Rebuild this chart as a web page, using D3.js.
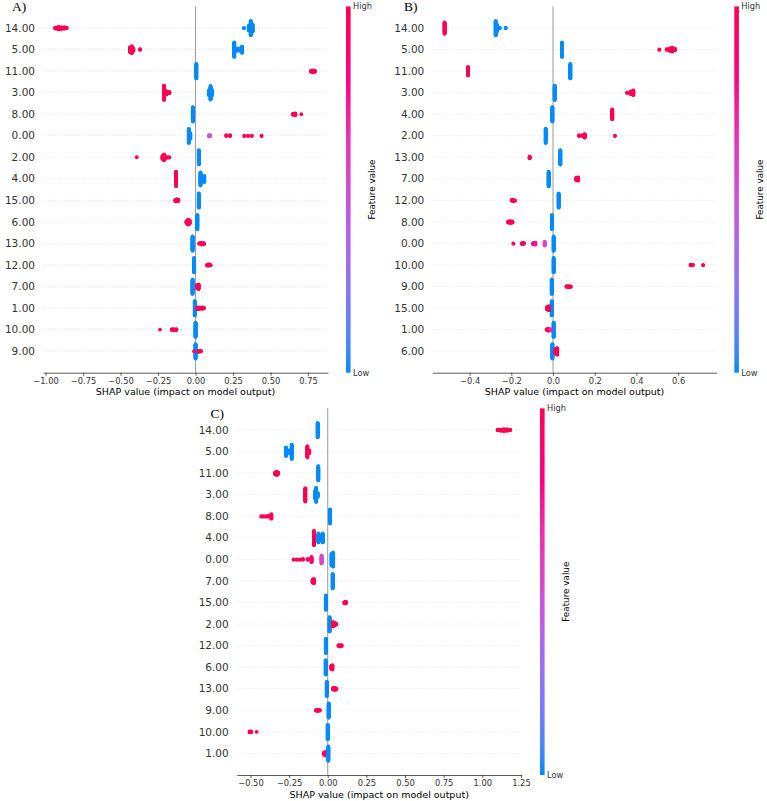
<!DOCTYPE html>
<html><head><meta charset="utf-8">
<script src="https://cdn.jsdelivr.net/npm/d3@7"></script>
<style>body{margin:0;background:#fff}svg{display:block}</style>
</head><body>
<svg id="chart" width="767" height="801"></svg>
<script>
// ---------- DATA ----------
// each cluster: [SHAP value, number of points, feature value level (0 = low, 1 = high)]
const featuresA = ["14.00","5.00","11.00","3.00","8.00","0.00","2.00","4.00","15.00","6.00","13.00","12.00","7.00","1.00","10.00","9.00"];
const shapA = [
  [[-0.935,4,1],[-0.915,8,1],[-0.895,6,1],[-0.875,5,1],[-0.86,3,1],[0.323,2,0],[0.355,14,0],[0.368,40,0],[0.38,20,0]],
  [[-0.437,14,1],[-0.425,20,1],[-0.415,8,1],[-0.37,3,1],[0.258,40,0],[0.272,8,0],[0.285,6,0],[0.298,8,0],[0.31,18,0]],
  [[0.005,40,0],[0.77,4,1],[0.782,6,1],[0.795,4,1]],
  [[-0.21,38,1],[-0.195,10,1],[-0.175,5,1],[0.09,14,0],[0.1,36,0],[0.11,14,0]],
  [[-0.018,40,0],[0.65,4,1],[0.665,6,1],[0.705,1,1]],
  [[-0.045,34,0],[-0.035,14,0],[0.09,4,0.5],[0.098,3,0.45],[0.205,3,0.95],[0.23,3,1],[0.325,2,1],[0.35,2,1],[0.375,2,1],[0.44,2,1]],
  [[-0.392,1,1],[-0.22,10,1],[-0.21,16,1],[-0.198,6,1],[-0.175,2,1],[0.022,38,0]],
  [[-0.13,40,1],[0.033,36,0],[0.045,14,0],[0.058,18,0]],
  [[-0.135,4,1],[-0.125,7,1],[-0.115,5,1],[0.022,40,0]],
  [[-0.06,6,1],[-0.05,14,1],[-0.04,10,1],[0.012,38,0]],
  [[-0.02,40,0],[0.025,3,1],[0.04,6,1],[0.055,4,1]],
  [[-0.01,40,0],[0.078,4,1],[0.09,5,1],[0.1,2,1]],
  [[-0.02,40,0],[0.01,10,1],[0.02,14,1]],
  [[-0.005,40,0],[0.01,6,0.85],[0.025,6,1],[0.045,5,1],[0.055,3,1]],
  [[-0.237,1,1],[-0.158,3,1],[-0.145,4,1],[-0.128,3,1],[0.0,40,0]],
  [[0.0,40,0],[-0.01,1,1],[0.02,4,1],[0.035,3,1]]
];

const featuresB = ["14.00","5.00","11.00","3.00","4.00","2.00","13.00","7.00","12.00","8.00","0.00","10.00","9.00","15.00","1.00","6.00"];
const shapB = [
  [[-0.52,32,1],[-0.275,40,0],[-0.268,18,0],[-0.256,3,0],[-0.227,3,0]],
  [[0.043,40,0],[0.51,2,1],[0.545,3,1],[0.56,8,1],[0.572,12,1],[0.585,5,1]],
  [[-0.408,24,1],[0.083,40,0]],
  [[0.008,40,0],[0.355,2,1],[0.372,8,1],[0.385,14,1]],
  [[-0.003,40,0],[0.284,28,1]],
  [[-0.035,36,0],[0.125,3,1],[0.14,3,1],[0.152,10,1],[0.297,2,1]],
  [[-0.112,6,1],[0.035,40,0]],
  [[-0.021,40,0],[0.112,8,1],[0.12,10,1]],
  [[-0.198,3,1],[-0.19,4,1],[-0.182,2,1],[0.027,36,0]],
  [[-0.215,4,1],[-0.205,6,1],[-0.195,4,1],[-0.005,36,0]],
  [[-0.19,2,1],[-0.148,4,0.95],[-0.14,3,0.95],[-0.095,4,0.8],[-0.085,6,0.75],[-0.04,10,0.55],[0.003,34,0]],
  [[0.003,36,0],[0.66,3,1],[0.67,3,1],[0.72,2,1]],
  [[-0.006,40,0],[0.065,3,1],[0.075,4,1],[0.085,2,1]],
  [[-0.006,40,0],[-0.028,8,1],[-0.02,12,1]],
  [[0.003,38,0],[-0.03,3,1],[-0.022,6,1],[-0.012,4,0.7]],
  [[-0.003,38,0],[0.012,14,1],[0.02,18,1]]
];

const featuresC = ["14.00","5.00","11.00","3.00","8.00","4.00","0.00","7.00","15.00","2.00","12.00","6.00","13.00","9.00","10.00","1.00"];
const shapC = [
  [[-0.065,38,0],[1.1,3,1],[1.12,4,1],[1.14,6,1],[1.16,5,1],[1.18,3,1]],
  [[-0.27,22,0],[-0.258,8,0],[-0.245,8,0],[-0.233,36,0],[-0.132,28,1],[-0.12,8,1]],
  [[-0.34,6,1],[-0.33,10,1],[-0.32,4,1],[-0.061,38,0]],
  [[-0.145,30,1],[-0.082,18,0],[-0.075,32,0],[-0.065,10,0]],
  [[-0.43,2,1],[-0.415,2,1],[-0.4,2,1],[-0.385,3,1],[-0.365,12,1],[0.015,36,0]],
  [[-0.089,38,1],[-0.06,24,0],[-0.045,14,0],[-0.032,24,0]],
  [[-0.22,2,1],[-0.2,2,1],[-0.18,2,1],[-0.16,3,1],[-0.13,3,0.95],[-0.105,14,0.9],[-0.04,20,0.55],[0.025,30,0],[0.035,36,0]],
  [[-0.098,8,1],[-0.09,12,1],[0.032,38,0]],
  [[-0.012,38,0],[0.108,4,1],[0.118,5,1]],
  [[0.012,38,0],[0.035,12,1],[0.045,8,1],[0.055,3,1]],
  [[-0.012,38,0],[0.07,3,1],[0.08,4,1],[0.09,3,1]],
  [[-0.013,38,0],[0.022,8,1],[0.03,12,1]],
  [[-0.006,38,0],[0.035,5,1],[0.045,6,1],[0.055,4,1]],
  [[-0.075,3,1],[-0.065,4,1],[-0.052,3,1],[0.006,38,0]],
  [[-0.505,3,1],[-0.495,3,1],[-0.46,1,1],[0.0,38,0]],
  [[-0.025,6,1],[-0.015,10,0.9],[0.004,36,0]]
];

const ticksA = [-1.00,-0.75,-0.50,-0.25,0.00,0.25,0.50,0.75];
const ticksB = [-0.4,-0.2,0.0,0.2,0.4,0.6];
const ticksC = [-0.50,-0.25,0.00,0.25,0.50,0.75,1.00,1.25];
const xLabel = "SHAP value (impact on model output)";
const cbLabel = "Feature value";
const cbHigh = "High", cbLow = "Low";

// ---------- LAYOUT ----------
const panels = [
  {tag:"A)", features:featuresA, shap:shapA, ticks:ticksA, fmt:".2f",
   domain:[-1.017,0.883], left:43, right:328, top:6.4, bottom:372.7,
   tagX:12, tagY:11, cbX:346, xLabelY:395},
  {tag:"B)", features:featuresB, shap:shapB, ticks:ticksB, fmt:".1f",
   domain:[-0.579,0.785], left:432.3, right:716.7, top:6.4, bottom:372.7,
   tagX:404, tagY:11, cbX:734.3, xLabelY:395},
  {tag:"C)", features:featuresC, shap:shapC, ticks:ticksC, fmt:".2f",
   domain:[-0.589,1.255], left:236.7, right:521.7, top:408.4, bottom:775,
   tagX:210.5, tagY:417.5, cbX:540, xLabelY:797.5}
];

const svg = d3.select("#chart");
const color = d3.scaleLinear().domain([0,1]).range(["#008bfb","#ff0052"]).interpolate(d3.interpolateHcl);

// gradient
const defs = svg.append("defs");
const grad = defs.append("linearGradient").attr("id","cbgrad")
  .attr("x1","0").attr("y1","1").attr("x2","0").attr("y2","0");
d3.range(0,1.0001,0.05).forEach(t => grad.append("stop").attr("offset", t).attr("stop-color", color(t)));

const FONT = "'DejaVu Sans', sans-serif";

function drawPanel(p) {
  const g = svg.append("g");
  const n = p.features.length;
  const x = d3.scaleLinear().domain(p.domain).range([p.left, p.right]);
  const y = d3.scaleLinear().domain([-1, n]).range([p.bottom, p.top]);
  const rowPx = Math.abs(y(1) - y(0));

  // dotted row lines
  g.selectAll(null).data(p.features).enter().append("line")
    .attr("x1", p.left).attr("x2", p.right)
    .attr("y1", (d,i) => y(n-1-i)).attr("y2", (d,i) => y(n-1-i))
    .attr("stroke", "#cccccc").attr("stroke-width", 0.6).attr("stroke-dasharray", "1 2");

  // zero line
  g.append("line").attr("x1", x(0)).attr("x2", x(0))
    .attr("y1", p.top).attr("y2", p.bottom)
    .attr("stroke", "#999999").attr("stroke-width", 1);

  // beeswarm points
  p.shap.forEach((clusters, i) => {
    const maxN = d3.max(clusters, c => c[1]);
    const maxLayer = Math.ceil((maxN - 1) / 2);
    const unit = 0.36 / (maxLayer + 1) * rowPx;
    const pts = [];
    clusters.forEach(c => {
      for (let k = 0; k < c[1]; k++) {
        const off = Math.ceil(k / 2) * (k % 2 === 0 ? -1 : 1);
        pts.push({v: c[0], dy: off * unit, t: c[2]});
      }
    });
    const yy = y(n - 1 - i);
    g.append("g").selectAll("circle").data(pts).enter().append("circle")
      .attr("cx", d => x(d.v)).attr("cy", d => yy + d.dy).attr("r", 1.9)
      .attr("fill", d => color(d.t));
  });

  // y labels
  g.selectAll(null).data(p.features).enter().append("text")
    .attr("x", p.left - 8).attr("y", (d,i) => y(n-1-i))
    .attr("dy", "0.35em").attr("text-anchor", "end")
    .attr("font-family", FONT).attr("font-size", 10.5).attr("fill", "#333333")
    .text(d => d);

  // x axis
  const axis = d3.axisBottom(x).tickValues(p.ticks).tickFormat(d3.format(p.fmt))
    .tickSize(3).tickSizeOuter(0).tickPadding(2.5);
  const ag = g.append("g").attr("transform", `translate(0,${p.bottom})`).call(axis);
  ag.select(".domain").attr("stroke", "#333333").attr("stroke-width", 0.8);
  ag.selectAll(".tick line").attr("stroke", "#333333").attr("stroke-width", 0.8);
  ag.selectAll(".tick text").attr("font-family", FONT).attr("font-size", 8.3).attr("fill", "#333333");

  g.append("text").attr("x", (p.left + p.right) / 2).attr("y", p.xLabelY)
    .attr("text-anchor", "middle").attr("font-family", FONT).attr("font-size", 9.5)
    .attr("fill", "#000").text(xLabel);

  // panel tag
  g.append("text").attr("x", p.tagX).attr("y", p.tagY)
    .attr("font-family", "'Liberation Serif', 'Times New Roman', serif").attr("font-size", 13.5)
    .attr("fill", "#000").text(p.tag);

  // colour bar
  g.append("rect").attr("x", p.cbX).attr("y", p.top).attr("width", 4.6)
    .attr("height", p.bottom - p.top).attr("fill", "url(#cbgrad)");
  g.append("text").attr("x", p.cbX + 7).attr("y", p.top).attr("dy", "0.35em")
    .attr("font-family", FONT).attr("font-size", 8.2).attr("fill", "#333333").text(cbHigh);
  g.append("text").attr("x", p.cbX + 7).attr("y", p.bottom).attr("dy", "0.35em")
    .attr("font-family", FONT).attr("font-size", 8.2).attr("fill", "#333333").text(cbLow);
  const cx = p.cbX + 29, cy = (p.top + p.bottom) / 2;
  g.append("text").attr("transform", `translate(${cx},${cy}) rotate(-90)`)
    .attr("text-anchor", "middle").attr("font-family", FONT).attr("font-size", 8.8)
    .attr("fill", "#000").text(cbLabel);
}

panels.forEach(drawPanel);
</script>
</body></html>
